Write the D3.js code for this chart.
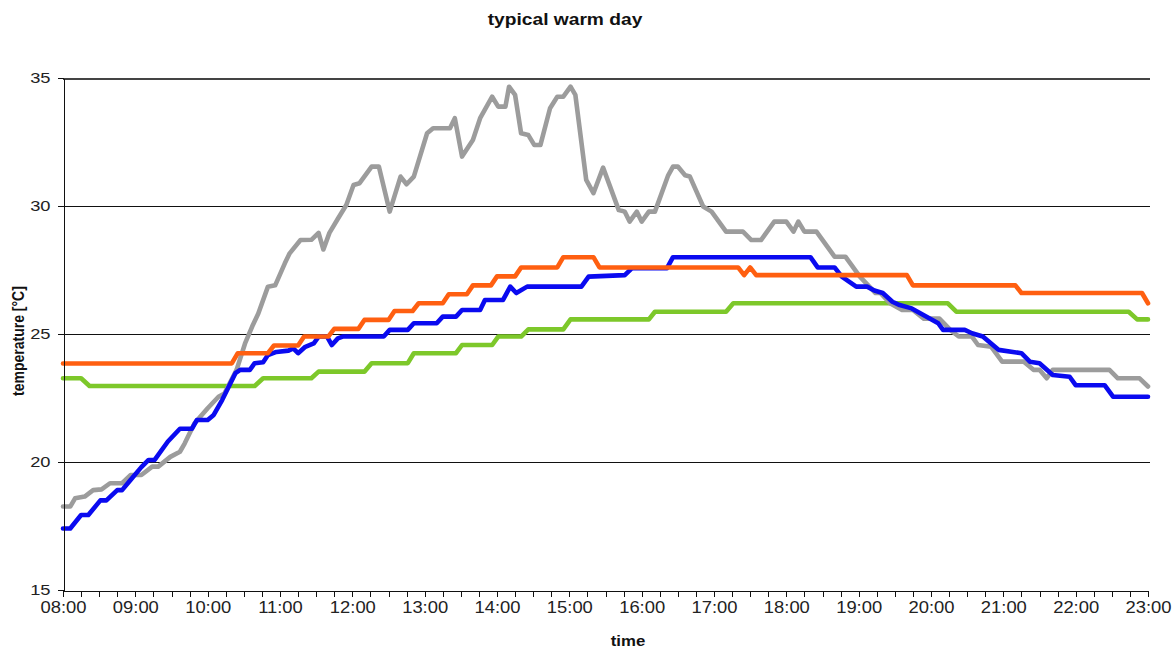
<!DOCTYPE html>
<html>
<head>
<meta charset="utf-8">
<script src="https://cdn.jsdelivr.net/npm/d3@7"></script>
<style>
  body { margin: 0; background: #fff; }
  svg { display: block; font-family: "Liberation Sans", Arial, sans-serif; }
</style>
</head>
<body>
<div id="chart"></div>
<script>
// breakpoints [time, temperature]
const graySeries = [
  ["08:00", 18.26], ["08:06", 18.26], ["08:10", 18.58], ["08:18", 18.65], ["08:25", 18.9], ["08:32", 18.93],
  ["08:39", 19.17], ["08:49", 19.17], ["08:56", 19.49], ["09:05", 19.49], ["09:14", 19.82], ["09:19", 19.82],
  ["09:29", 20.2], ["09:37", 20.4], ["09:41", 20.73], ["09:49", 21.5], ["10:00", 22.1], ["10:09", 22.55],
  ["10:14", 22.68], ["10:24", 23.6], ["10:31", 24.63], ["10:37", 25.3], ["10:42", 25.8], ["10:50", 26.85],
  ["10:56", 26.9], ["11:04", 27.76], ["11:08", 28.15], ["11:17", 28.67], ["11:26", 28.68], ["11:32", 28.95],
  ["11:36", 28.3], ["11:41", 28.95], ["11:48", 29.5], ["11:55", 30.04], ["12:01", 30.82], ["12:06", 30.89],
  ["12:16", 31.54], ["12:22", 31.54], ["12:31", 29.78], ["12:40", 31.15], ["12:45", 30.85], ["12:51", 31.15],
  ["13:02", 32.84], ["13:07", 33.04], ["13:21", 33.04], ["13:25", 33.43], ["13:31", 31.93], ["13:40", 32.58],
  ["13:46", 33.43], ["13:56", 34.27], ["14:01", 33.88], ["14:07", 33.88], ["14:10", 34.66], ["14:15", 34.34],
  ["14:20", 32.84], ["14:26", 32.77], ["14:31", 32.38], ["14:36", 32.38], ["14:44", 33.82], ["14:50", 34.27],
  ["14:55", 34.27], ["15:01", 34.66], ["15:05", 34.34], ["15:14", 31.02], ["15:20", 30.5], ["15:28", 31.5],
  ["15:41", 29.84], ["15:46", 29.78], ["15:50", 29.39], ["15:56", 29.78], ["16:00", 29.39], ["16:06", 29.78],
  ["16:11", 29.78], ["16:22", 31.2], ["16:26", 31.54], ["16:30", 31.54], ["16:36", 31.2], ["16:40", 31.15],
  ["16:51", 29.98], ["16:58", 29.78], ["17:10", 29.0], ["17:24", 29.0], ["17:31", 28.67], ["17:39", 28.67],
  ["17:50", 29.39], ["18:00", 29.39], ["18:06", 29.0], ["18:10", 29.39], ["18:15", 29.0], ["18:25", 29.0],
  ["18:40", 28.02], ["18:49", 28.02], ["19:01", 27.24], ["19:14", 26.6], ["19:18", 26.6], ["19:26", 26.2],
  ["19:36", 25.94], ["19:45", 25.94], ["19:54", 25.6], ["20:07", 25.6], ["20:16", 25.16], ["20:23", 24.9],
  ["20:34", 24.9], ["20:39", 24.57], ["20:50", 24.5], ["20:59", 23.92], ["21:17", 23.92], ["21:25", 23.6],
  ["21:30", 23.6], ["21:36", 23.27], ["21:41", 23.6], ["22:28", 23.6], ["22:35", 23.27], ["22:53", 23.27],
  ["23:00", 22.95]
];

const blueSeries = [
  ["08:00", 17.4], ["08:06", 17.4], ["08:15", 17.93], ["08:21", 17.93], ["08:31", 18.5], ["08:36", 18.5],
  ["08:45", 18.9], ["08:49", 18.9], ["08:56", 19.3], ["09:05", 19.8], ["09:11", 20.08], ["09:16", 20.08],
  ["09:27", 20.8], ["09:37", 21.3], ["09:47", 21.3], ["09:51", 21.64], ["10:00", 21.64], ["10:05", 21.84],
  ["10:12", 22.42], ["10:23", 23.47], ["10:27", 23.6], ["10:35", 23.6], ["10:39", 23.86], ["10:46", 23.9],
  ["10:50", 24.18], ["10:57", 24.3], ["11:07", 24.35], ["11:11", 24.44], ["11:15", 24.25], ["11:21", 24.5],
  ["11:28", 24.63], ["11:32", 24.9], ["11:39", 24.9], ["11:43", 24.57], ["11:48", 24.83], ["11:52", 24.9],
  ["12:26", 24.9], ["12:31", 25.16], ["12:46", 25.16], ["12:51", 25.42], ["13:10", 25.42], ["13:15", 25.68],
  ["13:26", 25.68], ["13:31", 25.94], ["13:46", 25.94], ["13:50", 26.33], ["14:05", 26.33], ["14:11", 26.85],
  ["14:16", 26.6], ["14:25", 26.85], ["15:10", 26.85], ["15:16", 27.24], ["15:46", 27.3], ["15:52", 27.57],
  ["16:21", 27.57], ["16:26", 28.0], ["18:20", 28.0], ["18:26", 27.6], ["18:40", 27.6], ["18:46", 27.24],
  ["18:58", 26.85], ["19:07", 26.85], ["19:13", 26.7], ["19:20", 26.6], ["19:28", 26.26], ["19:34", 26.13],
  ["19:44", 26.0], ["20:06", 25.42], ["20:10", 25.16], ["20:28", 25.16], ["20:34", 25.03], ["20:43", 24.9],
  ["20:56", 24.38], ["21:15", 24.25], ["21:22", 23.92], ["21:30", 23.86], ["21:41", 23.4], ["21:55", 23.33],
  ["22:00", 23.0], ["22:24", 23.0], ["22:31", 22.55], ["23:00", 22.55]
];

const orangeSeries = [
  ["08:00", 23.85], ["10:20", 23.85], ["10:25", 24.25], ["10:50", 24.25], ["10:55", 24.55], ["11:15", 24.55],
  ["11:20", 24.9], ["11:40", 24.9], ["11:45", 25.2], ["12:05", 25.2], ["12:10", 25.55], ["12:30", 25.55],
  ["12:35", 25.9], ["12:50", 25.9], ["12:55", 26.2], ["13:15", 26.2], ["13:20", 26.55], ["13:35", 26.55],
  ["13:40", 26.9], ["13:55", 26.9], ["14:00", 27.25], ["14:15", 27.25], ["14:20", 27.6], ["14:50", 27.6],
  ["14:55", 28.0], ["15:20", 28.0], ["15:25", 27.6], ["17:20", 27.6], ["17:25", 27.3], ["17:30", 27.6],
  ["17:35", 27.3], ["19:40", 27.3], ["19:45", 26.9], ["21:10", 26.9], ["21:15", 26.6], ["22:55", 26.6],
  ["23:00", 26.2]
];

const greenSeries = [
  ["08:00", 23.27], ["08:15", 23.27], ["08:22", 22.97], ["10:39", 22.97], ["10:46", 23.27], ["11:26", 23.27],
  ["11:32", 23.53], ["12:10", 23.53], ["12:16", 23.86], ["12:46", 23.86], ["12:51", 24.25], ["13:26", 24.25],
  ["13:31", 24.57], ["13:56", 24.57], ["14:01", 24.9], ["14:20", 24.9], ["14:26", 25.18], ["14:55", 25.18],
  ["15:01", 25.57], ["16:06", 25.57], ["16:11", 25.87], ["17:10", 25.87], ["17:16", 26.2], ["20:14", 26.2],
  ["20:21", 25.87], ["22:44", 25.87], ["22:51", 25.57], ["23:00", 25.57]
];

const yTicks = [15, 20, 25, 30, 35];
const gridValues = [20, 25, 30, 35];
const timeDomain = ["08:00", "23:00"];

const width = 1176, height = 651;
const margin = { left: 63, right: 28, top: 78, bottom: 61 };

const parseTime = d3.timeParse("%H:%M");

const svg = d3.select("#chart").append("svg")
  .attr("width", width)
  .attr("height", height);

const x = d3.scaleTime()
  .domain(timeDomain.map(parseTime))
  .range([margin.left, width - margin.right]);

const y = d3.scaleLinear()
  .domain([15, 35])
  .range([height - margin.bottom, margin.top]);

// gridlines
svg.append("g").selectAll("line")
  .data(gridValues)
  .join("line")
  .attr("x1", margin.left)
  .attr("x2", width - margin.right + 2)
  .attr("y1", d => Math.round(y(d)) + 0.5)
  .attr("y2", d => Math.round(y(d)) + 0.5)
  .attr("stroke", d => d === 35 ? "#444" : "#111")
  .attr("stroke-width", d => d === 35 ? 2 : 1)
  .attr("shape-rendering", "crispEdges");

// lines
const line = d3.line()
  .x(d => x(parseTime(d[0])))
  .y(d => y(d[1]));

const series = [
  { data: greenSeries, color: "#7dc82a" },
  { data: graySeries, color: "#9c9c9c" },
  { data: blueSeries, color: "#0a0af0" },
  { data: orangeSeries, color: "#ff5f10" }
];

svg.append("g").selectAll("path")
  .data(series)
  .join("path")
  .attr("d", d => line(d.data))
  .attr("fill", "none")
  .attr("stroke", d => d.color)
  .attr("stroke-width", 4.6)
  .attr("stroke-linejoin", "round")
  .attr("stroke-linecap", "round");

// x axis
const xAxis = svg.append("g")
  .attr("transform", `translate(0, ${Math.round(y(15)) + 0.5})`)
  .call(d3.axisBottom(x)
    .ticks(d3.timeMinute.every(15))
    .tickSize(6)
    .tickSizeOuter(0)
    .tickFormat(d => d.getMinutes() === 0 ? d3.timeFormat("%H:%M")(d) : ""));
xAxis.select(".domain").attr("stroke", "#111").attr("shape-rendering", "crispEdges");
xAxis.selectAll(".tick line").attr("stroke", "#111").attr("shape-rendering", "crispEdges");
xAxis.selectAll(".tick text")
  .attr("y", 11)
  .attr("dy", "0.71em")
  .attr("transform", "scale(1.15,1)")
  .style("font-size", "16px")
  .attr("fill", "#222");

// y axis
const yAxis = svg.append("g")
  .attr("transform", `translate(${margin.left + 0.5}, 0)`)
  .call(d3.axisLeft(y).tickValues(yTicks).tickSize(6).tickSizeOuter(0));
yAxis.select(".domain").attr("stroke", "#111").attr("shape-rendering", "crispEdges");
yAxis.selectAll(".tick line").attr("stroke", "#111").attr("shape-rendering", "crispEdges");
yAxis.selectAll(".tick text")
  .attr("x", -11)
  .attr("transform", "scale(1.18,1)")
  .style("font-size", "15.5px")
  .attr("fill", "#222");

// title and axis labels
svg.append("text")
  .attr("transform", "translate(565, 25) scale(1.2,1)")
  .attr("text-anchor", "middle")
  .style("font-size", "16px")
  .style("font-weight", "bold")
  .attr("fill", "#111")
  .text("typical warm day");

svg.append("text")
  .attr("transform", "translate(628, 646) scale(1.2,1)")
  .attr("text-anchor", "middle")
  .style("font-size", "14px")
  .style("font-weight", "bold")
  .attr("fill", "#111")
  .text("time");

svg.append("text")
  .attr("transform", "translate(24, 341) rotate(-90) scale(1,1.2)")
  .attr("text-anchor", "middle")
  .style("font-size", "14px")
  .style("font-weight", "bold")
  .attr("fill", "#111")
  .text("temperature [°C]");
</script>
</body>
</html>
